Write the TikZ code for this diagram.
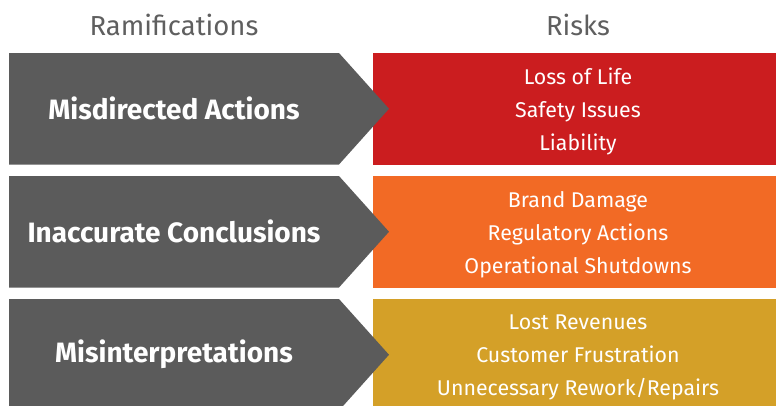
\documentclass[tikz,border=0pt]{standalone}
\usepackage{fontspec}
\setmainfont{Fira Sans}
\usetikzlibrary{calc}

\definecolor{arrowgray}{HTML}{5B5B5B}
\definecolor{headgray}{HTML}{5F5F5F}
\definecolor{riskred}{HTML}{CB1D1F}
\definecolor{riskorange}{HTML}{F26A25}
\definecolor{riskgold}{HTML}{D4A028}

\tikzset{
    heading/.style={text=headgray, font=\fontsize{20.6}{22}\selectfont},
    ramilabel/.style={text=white, font=\fontsize{21}{23}\selectfont\bfseries},
    risklist/.style={text=white, align=center, font=\fontsize{16}{24.75}\selectfont}
}

\begin{document}
\begin{tikzpicture}[x=0.75pt,y=0.75pt]
    \def\rowh{111.5}
    \def\bodyw{330}
    \def\tipw{50}
    \def\boxl{364}
    \def\boxw{420}

    \useasboundingbox (0,0) rectangle (776,405);

    \coordinate (ROWA) at (9,352);
    \coordinate (ROWB) at (9,229);
    \coordinate (ROWC) at (9,106);

    % Headings
    \node[heading] (rami) at (174,380) {Ramifications};
    \node[heading] (risks) at (578,380) {Risks};

    % Risk Boxes
    \fill[riskred] ($(ROWA)+(\boxl,0)$) rectangle ++(\boxw,-\rowh);
    \fill[riskorange] ($(ROWB)+(\boxl,0)$) rectangle ++(\boxw,-\rowh);
    \fill[riskgold] ($(ROWC)+(\boxl,0)$) rectangle ++(\boxw,-\rowh);

    % Arrows
    \fill[arrowgray] (ROWA) -- ++(\bodyw,0) -- ++(\tipw,-\rowh/2) -- ++(-\tipw,-\rowh/2) -- ++(-\bodyw,0) -- cycle;
    \fill[arrowgray] (ROWB) -- ++(\bodyw,0) -- ++(\tipw,-\rowh/2) -- ++(-\tipw,-\rowh/2) -- ++(-\bodyw,0) -- cycle;
    \fill[arrowgray] (ROWC) -- ++(\bodyw,0) -- ++(\tipw,-\rowh/2) -- ++(-\tipw,-\rowh/2) -- ++(-\bodyw,0) -- cycle;

    % Arrow Labels
    \node[ramilabel] (misdirected) at ($(ROWA)+(\bodyw/2,-\rowh/2)$) {Misdirected Actions};
    \node[ramilabel] (inaccurate) at ($(ROWB)+(\bodyw/2,-\rowh/2)$) {Inaccurate Conclusions};
    \node[ramilabel] (misinterp) at ($(ROWC)+(\bodyw/2,-\rowh/2)$) {Misinterpretations};

    % Risk Labels
    \node[risklist] (lifeloss) at ($(ROWA)+(569,-\rowh/2-3)$) {Loss of Life\\Safety Issues\\Liability};
    \node[risklist] (branddmg) at ($(ROWB)+(569,-\rowh/2-3)$) {Brand Damage\\Regulatory Actions\\Operational Shutdowns};
    \node[risklist] (revenues) at ($(ROWC)+(569,-\rowh/2-3)$) {Lost Revenues\\Customer Frustration\\Unnecessary Rework/Repairs};
\end{tikzpicture}
\end{document}
